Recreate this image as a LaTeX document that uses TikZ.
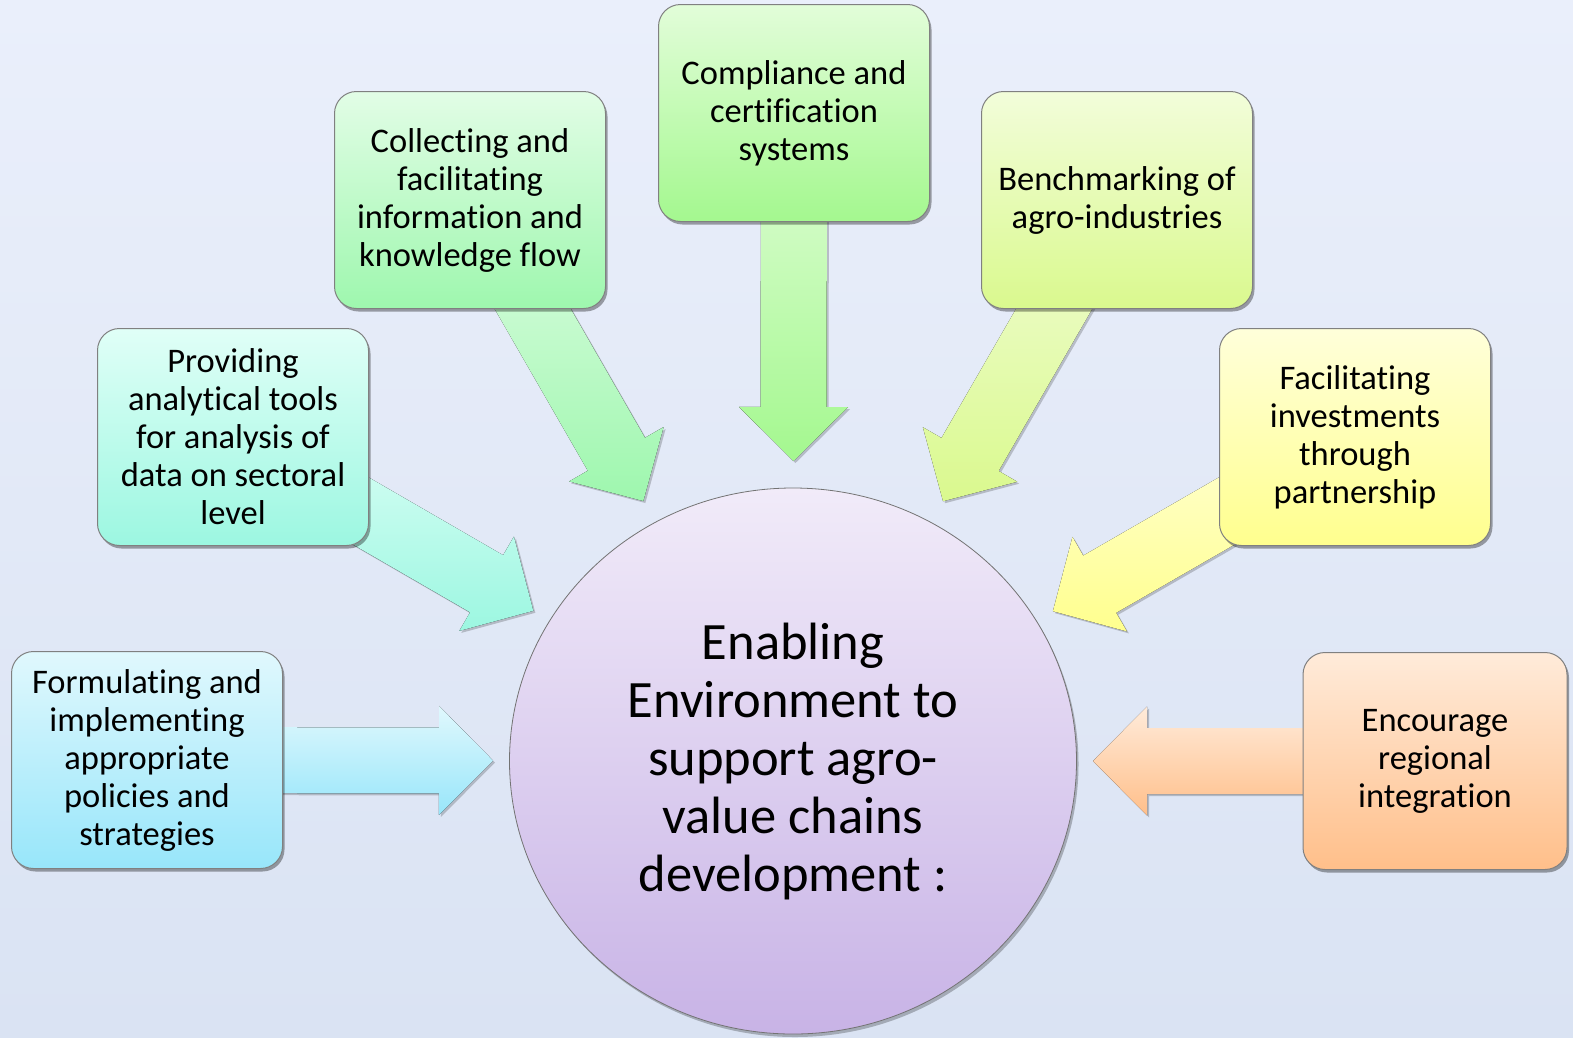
\documentclass[tikz,border=0pt]{standalone}
\usepackage{fontspec}
\setsansfont{Carlito}[Ligatures=NoCommon]
\usetikzlibrary{calc,shadows,shapes.geometric,positioning}

% colours: background, boxes (top/bottom), hub
\definecolor{bgtop}{RGB}{234,239,251}
\definecolor{bgmid}{RGB}{195,210,236}
\definecolor{bgbot}{RGB}{218,227,243}
\definecolor{cyantop}{RGB}{224,248,253}
\definecolor{cyanbot}{RGB}{152,230,250}
\definecolor{aquatop}{RGB}{224,255,247}
\definecolor{aquabot}{RGB}{156,247,225}
\definecolor{minttop}{RGB}{226,253,230}
\definecolor{mintbot}{RGB}{158,247,174}
\definecolor{greentop}{RGB}{226,253,217}
\definecolor{greenbot}{RGB}{164,248,143}
\definecolor{limetop}{RGB}{242,253,218}
\definecolor{limebot}{RGB}{218,249,142}
\definecolor{yellowtop}{RGB}{255,255,218}
\definecolor{yellowbot}{RGB}{255,255,142}
\definecolor{peachtop}{RGB}{255,235,218}
\definecolor{peachbot}{RGB}{255,191,138}
\definecolor{hubtop}{RGB}{241,235,249}
\definecolor{hubbot}{RGB}{200,179,230}

\pgfdeclarelayer{backdrop}
\pgfdeclarelayer{arrowlayer}
\pgfsetlayers{backdrop,arrowlayer,main}

% block arrow from a box centre towards the hub
\newcommand{\fatarrow}[2]{%
  \coordinate (atip) at ($(hub.center)!300pt!(#2.center)$);
  \coordinate (abase) at ($(atip)!54pt!(#2.center)$);
  \fill[top color=#1top, bottom color=#1bot, arrow shadow]
    ($(#2.center)!33pt!90:(atip)$) -- ($(abase)!33pt!90:(atip)$)
    -- ($(abase)!54.5pt!90:(atip)$) -- (atip)
    -- ($(abase)!54.5pt!-90:(atip)$) -- ($(abase)!33pt!-90:(atip)$)
    -- ($(#2.center)!33pt!-90:(atip)$) -- cycle;
}

\begin{document}
\begin{tikzpicture}[x=1pt, y=-1pt, font=\sffamily]

		% Setup the styles
		\tikzset{box style/.style={rectangle,
				rounded corners=22pt,
				draw=black!50,
				line width=1pt,
				minimum width=271pt,
				minimum height=217pt,
				align=center,
				font=\sffamily\fontsize{34.5}{38}\selectfont,
				drop shadow={shadow xshift=2pt, shadow yshift=-3pt, opacity=0.35, fill=black}},
			hub style/.style={ellipse,
				draw=black!55,
				line width=0.8pt,
				minimum width=567pt,
				minimum height=546pt,
				align=center,
				top color=hubtop, bottom color=hubbot,
				font=\sffamily\fontsize{52.5}{58}\selectfont,
				drop shadow={shadow xshift=2pt, shadow yshift=-3pt, opacity=0.25, fill=black}},
			arrow shadow/.style={drop shadow={shadow xshift=2pt, shadow yshift=-2pt, opacity=0.2, fill=black}}}

		\useasboundingbox (0,0) rectangle (1573,1037);
		\begin{pgfonlayer}{backdrop}
			\fill[top color=bgtop, middle color=bgmid, bottom color=bgbot] (0,0) rectangle (1573,1037);
		\end{pgfonlayer}

		% Draw the hub and the boxes
		\node[hub style] at (793, 761) (hub) {Enabling\\Environment to\\support agro-\\value chains\\development :};
		\node[box style, top color=cyantop, bottom color=cyanbot] at (147, 760) (policies) {Formulating and\\implementing\\appropriate\\policies and\\strategies};
		\node[box style, top color=aquatop, bottom color=aquabot] at (233, 437) (tools) {Providing\\analytical tools\\for analysis of\\data on sectoral\\level};
		\node[box style, top color=minttop, bottom color=mintbot] at (470, 200) (knowledge) {Collecting and\\facilitating\\information and\\knowledge flow};
		\node[box style, top color=greentop, bottom color=greenbot] at (794, 113) (compliance) {Compliance and\\certification\\systems};
		\node[box style, top color=limetop, bottom color=limebot] at (1117, 200) (benchmark) {Benchmarking of\\agro-industries};
		\node[box style, top color=yellowtop, bottom color=yellowbot] at (1355, 437) (invest) {Facilitating\\investments\\through\\partnership};
		\node[box style, minimum width=264pt, top color=peachtop, bottom color=peachbot] at (1435, 761) (regional) {Encourage\\regional\\integration};

		% Connect the boxes to the hub
		\begin{pgfonlayer}{arrowlayer}
			\fatarrow{cyan}{policies}
			\fatarrow{aqua}{tools}
			\fatarrow{mint}{knowledge}
			\fatarrow{green}{compliance}
			\fatarrow{lime}{benchmark}
			\fatarrow{yellow}{invest}
			\fatarrow{peach}{regional}
		\end{pgfonlayer}
\end{tikzpicture}
\end{document}
